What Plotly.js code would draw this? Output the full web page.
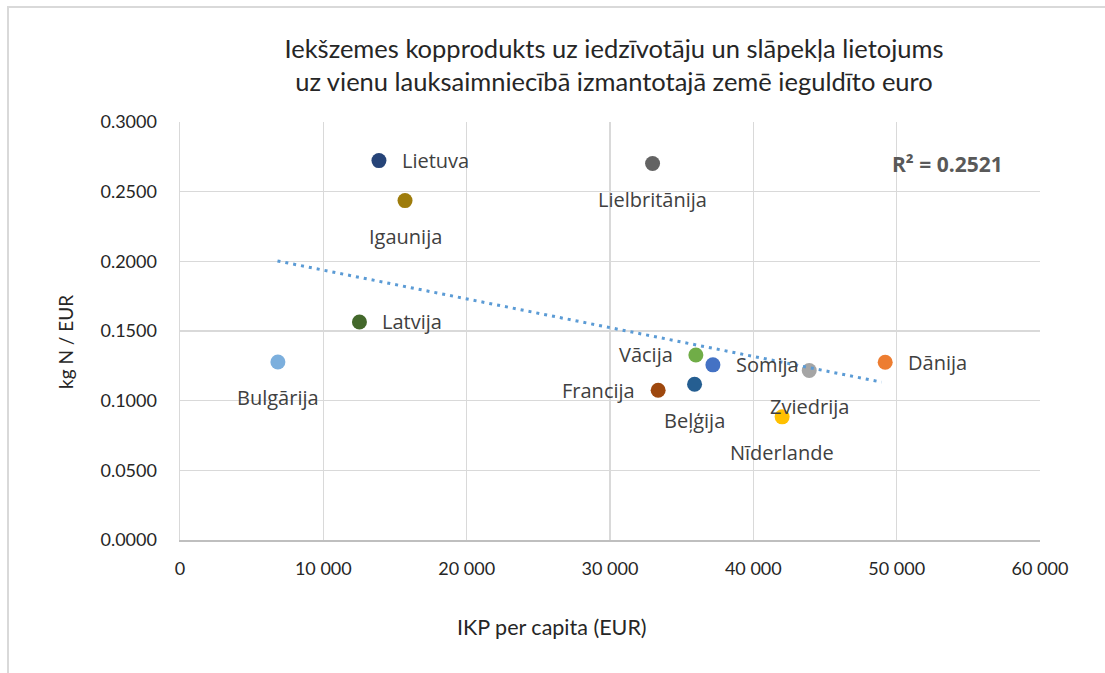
<!DOCTYPE html>
<html>
<head>
<meta charset="utf-8">
<script src="https://cdn.plot.ly/plotly-3.0.1.min.js"></script>
<style>
  html, body { margin: 0; padding: 0; background: #fff; }
  #wrap { position: relative; width: 1105px; height: 673px; overflow: hidden; }
  #chart { position: absolute; left: 0; top: 0; width: 1105px; height: 673px; }
  #frame { position: absolute; left: 7px; top: 6px; width: 1200px; height: 800px;
           border-top: 2px solid #d9d9d9; border-left: 2px solid #d9d9d9; pointer-events: none; }
</style>
</head>
<body>
<div id="wrap">
  <div id="chart"></div>
  <div id="frame"></div>
</div>
<script>
// ---- data ----
const countries = ["Lietuva", "Lielbritānija", "Igaunija", "Latvija", "Bulgārija", "Vācija",
                   "Somija", "Francija", "Beļģija", "Zviedrija", "Dānija", "Nīderlande"];
const gdpPerCapita = [13880, 32970, 15700, 12520, 6830, 35990, 37180, 33360, 35900, 43900, 49200, 42010];
const nPerEuro = [0.2723, 0.2702, 0.2436, 0.1565, 0.1278, 0.1328, 0.1257, 0.1075, 0.1118, 0.1216, 0.1276, 0.0884];

// trendline endpoints (as drawn in the reference) and its label
const trendX = [6800, 48950];
const trendY = [0.2003, 0.1133];
const trendLabel = "R² = 0.2521";

const xTicks = [0, 10000, 20000, 30000, 40000, 50000, 60000];
const yTicks = [0, 0.05, 0.10, 0.15, 0.20, 0.25, 0.30];

// ---- styling (kept separate from the data) ----
const pointColors = ["#264478", "#636363", "#9E7C0C", "#43682B", "#7CAFDD", "#70AD47",
                     "#4472C4", "#9E480E", "#255E91", "#A5A5A5", "#ED7D31", "#FFC000"];
const labelSide = ["right", "below", "below", "right", "below", "left",
                   "right", "left", "below", "below", "right", "below"];

const TITLE_FONT = "Lato, 'Liberation Sans', sans-serif";
const LABEL_FONT = "'Open Sans', 'Noto Sans', sans-serif";

const labelAnnotations = countries.map((name, i) => {
  const side = labelSide[i];
  const a = {
    x: gdpPerCapita[i], y: nPerEuro[i], xref: "x", yref: "y",
    text: name, showarrow: false,
    font: { family: LABEL_FONT, size: 20, color: "#404040" }
  };
  if (side === "right") { a.xanchor = "left"; a.yanchor = "middle"; a.xshift = 21; }
  else if (side === "left") { a.xanchor = "right"; a.yanchor = "middle"; a.xshift = -21; }
  else { a.xanchor = "center"; a.yanchor = "middle"; a.yshift = -36; }
  return a;
});

const traces = [
  {
    type: "scatter", mode: "markers",
    x: gdpPerCapita, y: nPerEuro, text: countries,
    marker: { size: 15, color: pointColors, line: { width: 0 } },
    hoverinfo: "text+x+y", showlegend: false
  },
  {
    type: "scatter", mode: "lines",
    x: trendX, y: trendY,
    line: { color: "#5B9BD5", width: 3, dash: "3px,5px" },
    hoverinfo: "skip", showlegend: false
  }
];

const layout = {
  width: 1105, height: 673,
  margin: { l: 180, r: 65, t: 122, b: 133, pad: 0 },
  paper_bgcolor: "#ffffff", plot_bgcolor: "#ffffff",
  separators: ". ",
  title: {
    text: "Iekšzemes kopprodukts uz iedzīvotāju un slāpekļa lietojums<br>uz vienu lauksaimniecībā izmantotajā zemē ieguldīto euro",
    font: { family: TITLE_FONT, size: 25.5, color: "#262626" },
    x: 614 / 1105, xanchor: "center", xref: "container",
    y: 1 - 58 / 673, yanchor: "middle", yref: "container"
  },
  xaxis: {
    range: [0, 60000], tickmode: "array", tickvals: xTicks, tickformat: ",d",
    showgrid: true, gridcolor: "#d9d9d9", gridwidth: 1.5,
    zeroline: false, showline: true, linecolor: "#bfbfbf", linewidth: 2,
    ticks: "", ticklabelstandoff: 11,
    tickfont: { family: TITLE_FONT, size: 18, color: "#262626" },
    fixedrange: true
  },
  yaxis: {
    range: [0, 0.3], tickmode: "array", tickvals: yTicks, tickformat: ".4f",
    showgrid: true, gridcolor: "#d9d9d9", gridwidth: 1.5,
    zeroline: false, showline: true, linecolor: "#d9d9d9", linewidth: 1.5,
    ticks: "", ticklabelstandoff: 18,
    tickfont: { family: TITLE_FONT, size: 18, color: "#262626" },
    fixedrange: true
  },
  annotations: labelAnnotations.concat([
    {
      xref: "paper", yref: "paper", x: (947.7 - 180) / 860, y: (540 - 163.7) / 418,
      xanchor: "center", yanchor: "middle", showarrow: false,
      text: "<b>" + trendLabel + "</b>",
      font: { family: LABEL_FONT, size: 21, color: "#595959" }
    },
    {
      xref: "paper", yref: "paper", x: (551.5 - 180) / 860, y: (540 - 627) / 418,
      xanchor: "center", yanchor: "middle", showarrow: false,
      text: "IKP per capita (EUR)",
      font: { family: TITLE_FONT, size: 21.5, color: "#262626" }
    },
    {
      xref: "paper", yref: "paper", x: (65 - 180) / 860, y: (540 - 342) / 418,
      xanchor: "center", yanchor: "middle", showarrow: false, textangle: -90,
      text: "kg N / EUR",
      font: { family: TITLE_FONT, size: 19, color: "#262626" }
    }
  ]),
  showlegend: false,
  hovermode: "closest"
};

Plotly.newPlot("chart", traces, layout, { displayModeBar: false, staticPlot: true });
</script>
</body>
</html>
